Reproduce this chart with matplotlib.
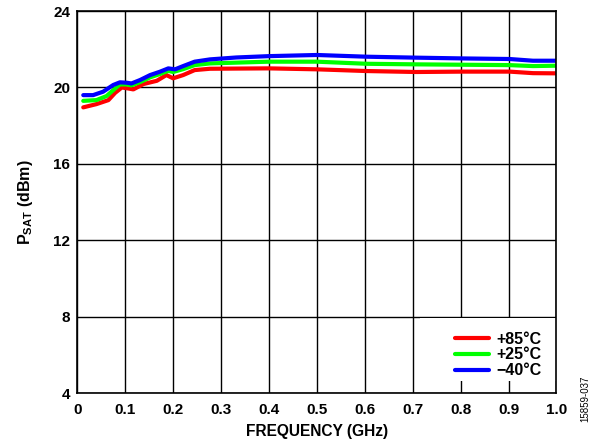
import matplotlib
matplotlib.use("Agg")
import matplotlib.pyplot as plt
from matplotlib.patches import Rectangle

plt.rcParams['font.family'] = ['Liberation Sans', 'DejaVu Sans']
plt.rcParams['font.weight'] = 'bold'
plt.rcParams['mathtext.fontset'] = 'custom'
plt.rcParams['mathtext.rm'] = 'Liberation Sans:bold'
plt.rcParams['mathtext.bf'] = 'Liberation Sans:bold'
plt.rcParams['mathtext.it'] = 'Liberation Sans:bold'

freq_blue = [0.0125, 0.033, 0.054, 0.075, 0.089, 0.103, 0.113, 0.131, 0.152, 0.172, 0.19, 0.204, 0.221, 0.245, 0.277, 0.332, 0.40, 0.50, 0.604, 0.708, 0.805, 0.902, 0.951, 1.0]
p_m40 = [19.60, 19.60, 19.78, 20.13, 20.27, 20.25, 20.21, 20.39, 20.65, 20.82, 21.0, 20.95, 21.12, 21.35, 21.47, 21.57, 21.64, 21.70, 21.61, 21.56, 21.52, 21.49, 21.40, 21.40]

freq_green = [0.0125, 0.04, 0.061, 0.079, 0.089, 0.103, 0.113, 0.131, 0.152, 0.172, 0.19, 0.20, 0.221, 0.245, 0.277, 0.40, 0.50, 0.604, 0.708, 0.805, 0.902, 0.951, 1.0]
p_p25 = [19.30, 19.34, 19.55, 19.95, 20.16, 20.16, 20.11, 20.28, 20.53, 20.70, 20.87, 20.81, 20.96, 21.17, 21.26, 21.35, 21.35, 21.24, 21.21, 21.19, 21.17, 21.12, 21.14]

freq_red = [0.0125, 0.04, 0.065, 0.079, 0.093, 0.106, 0.117, 0.138, 0.166, 0.186, 0.20, 0.221, 0.245, 0.277, 0.40, 0.50, 0.604, 0.708, 0.805, 0.902, 0.951, 1.0]
p_p85 = [18.96, 19.13, 19.34, 19.72, 20.0, 19.95, 19.90, 20.18, 20.35, 20.65, 20.48, 20.65, 20.91, 20.98, 21.0, 20.95, 20.86, 20.81, 20.83, 20.83, 20.75, 20.74]

labels = ['+85°C', '+25°C', '\u221240°C']
colors = ['#ff0000', '#00ff00', '#0000ff']

xticks = [0, 0.1, 0.2, 0.3, 0.4, 0.5, 0.6, 0.7, 0.8, 0.9, 1.0]
xticklabels = ['0', '0.1', '0.2', '0.3', '0.4', '0.5', '0.6', '0.7', '0.8', '0.9', '1.0']
yticks = [4, 8, 12, 16, 20, 24]

fig = plt.figure(figsize=(5.99, 4.48), dpi=100)
ax = fig.add_axes([0.129, 0.122, 0.80, 0.8534])

for x, y, c, l in zip([freq_red, freq_green, freq_blue], [p_p85, p_p25, p_m40], colors, labels):
    ax.plot(x, y, color=c, lw=3.0, label=l, solid_capstyle='round', solid_joinstyle='round', zorder=3)

ax.set_xlim(0, 1.0)
ax.set_ylim(4, 24)
ax.set_xticks(xticks)
ax.set_xticklabels(xticklabels)
ax.set_yticks(yticks)
ax.grid(True, color='#000000', lw=1.0)
ax.tick_params(length=0, labelsize=11)
ax.tick_params(axis='x', pad=7)
ax.tick_params(axis='y', pad=5)
for lab in ax.get_xticklabels() + ax.get_yticklabels():
    lab.set_fontweight('bold')
for s in ax.spines.values():
    s.set_linewidth(1.2)
    s.set_zorder(4)

# white panel behind the legend that hides the grid there
ax.add_patch(Rectangle((0.715, 0.032), 0.285, 0.165, transform=ax.transAxes,
                       facecolor='white', edgecolor='none', zorder=2))

ax.set_xlabel('FREQUENCY (GHz)', fontsize=11.2, fontweight='bold', labelpad=5)
ax.set_ylabel(r'P$_{\mathrm{SAT}}$ (dBm)', fontsize=11.5, fontweight='bold', labelpad=13)

leg = ax.legend(loc='lower right', frameon=False, handlelength=2.1,
                handletextpad=0.45, labelspacing=0.05, borderaxespad=0.55,
                prop={'weight': 'bold', 'size': 11.5})
leg.set_zorder(5)

fig.text(0.977, 0.11, '15859-037', rotation=90, fontsize=7, fontweight='normal',
         ha='center', va='center')

fig.savefig('out.png', dpi=100)
